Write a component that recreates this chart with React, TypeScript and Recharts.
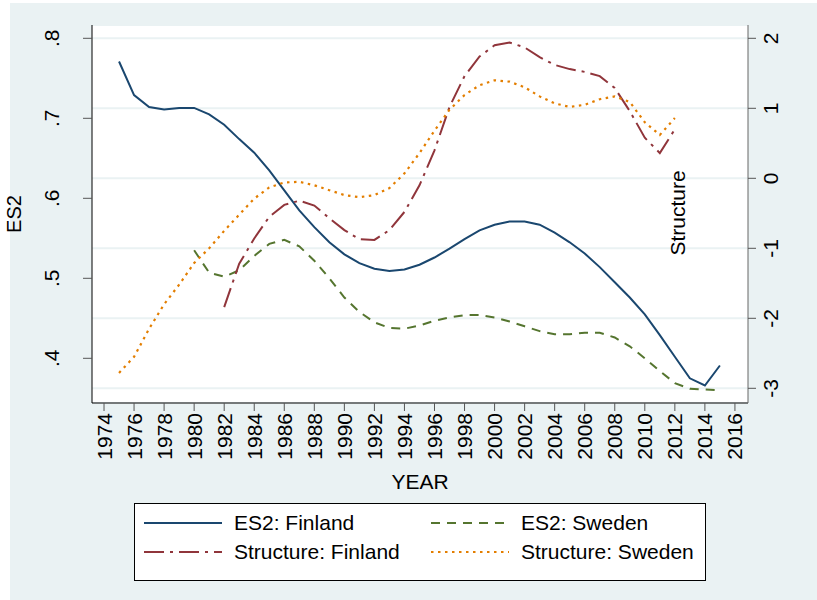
import { LineChart, Line, XAxis, YAxis, CartesianGrid } from 'recharts';

// years on the x axis
const years = [
    1975, 1976, 1977, 1978, 1979, 1980, 1981, 1982, 1983, 1984, 1985, 1986, 1987, 1988,
    1989, 1990, 1991, 1992, 1993, 1994, 1995, 1996, 1997, 1998, 1999, 2000, 2001, 2002,
    2003, 2004, 2005, 2006, 2007, 2008, 2009, 2010, 2011, 2012, 2013, 2014, 2015,
];

// ES2: Finland, 1975-2015
const es2Finland = [
    0.771, 0.729, 0.714, 0.711, 0.713, 0.713, 0.705, 0.692, 0.674, 0.657, 0.635, 0.61, 0.585, 0.564,
    0.545, 0.53, 0.519, 0.512, 0.509, 0.511, 0.517, 0.526, 0.537, 0.549, 0.56, 0.567, 0.571, 0.571,
    0.567, 0.557, 0.545, 0.531, 0.514, 0.495, 0.476, 0.455, 0.429, 0.402, 0.375, 0.366, 0.391,
];

// ES2: Sweden, 1975-2015 (starts 1980)
const es2Sweden = [
    null, null, null, null, null, 0.535, 0.507, 0.502, 0.51, 0.528, 0.543, 0.548, 0.54, 0.522,
    0.5, 0.476, 0.458, 0.445, 0.438, 0.437, 0.441, 0.447, 0.451, 0.454, 0.454, 0.451, 0.446, 0.44,
    0.434, 0.43, 0.43, 0.432, 0.432, 0.426, 0.415, 0.4, 0.384, 0.369, 0.362, 0.361, 0.36,
];

// Structure: Finland, 1975-2015 (1982-2012)
const structureFinland = [
    null, null, null, null, null, null, null, -1.84, -1.22, -0.86, -0.55, -0.38, -0.32, -0.39,
    -0.57, -0.74, -0.87, -0.88, -0.74, -0.48, -0.1, 0.4, 1.02, 1.46, 1.74, 1.9, 1.94, 1.87,
    1.73, 1.62, 1.56, 1.52, 1.46, 1.29, 0.96, 0.58, 0.36, 0.7, null, null, null,
];

// Structure: Sweden, 1975-2015 (1975-2012)
const structureSweden = [
    -2.78, -2.55, -2.15, -1.8, -1.52, -1.21, -1.0, -0.75, -0.52, -0.29, -0.13, -0.06, -0.05, -0.1,
    -0.17, -0.24, -0.27, -0.24, -0.14, 0.07, 0.36, 0.68, 0.98, 1.19, 1.33, 1.4, 1.38, 1.3,
    1.17, 1.07, 1.02, 1.05, 1.13, 1.17, 1.09, 0.8, 0.62, 0.86, null, null, null,
];

const xTicks = [
    1974, 1976, 1978, 1980, 1982, 1984, 1986, 1988, 1990, 1992, 1994, 1996, 1998, 2000, 2002,
    2004, 2006, 2008, 2010, 2012, 2014, 2016,
];
const leftTicks = [0.4, 0.5, 0.6, 0.7, 0.8];
const leftTickLabels = ['.4', '.5', '.6', '.7', '.8'];
const rightTicks = [-3, -2, -1, 0, 1, 2];

const NAVY = '#1a476f';
const MAROON = '#90353b';
const GREEN = '#55752f';
const ORANGE = '#e37e00';
const BG = '#eaf2f3';
const FONT = 'Liberation Sans, Arial, sans-serif';
const FS = 21;

const data = years.map((year, i) => ({
    year,
    es2Fi: es2Finland[i],
    es2Se: es2Sweden[i],
    strFi: structureFinland[i],
    strSe: structureSweden[i],
}));

const XTick = ({ x, y, payload }: any) => (
    <text
        x={x}
        y={y}
        transform={`rotate(-90 ${x} ${y})`}
        textAnchor="end"
        dominantBaseline="central"
        fontSize={FS}
        fontFamily={FONT}
        fill="#000"
    >
        {payload.value}
    </text>
);

const LeftTick = ({ y, payload }: any) => {
    const idx = leftTicks.indexOf(payload.value);
    const label = idx >= 0 ? leftTickLabels[idx] : payload.value;
    return (
        <text
            x={52}
            y={y}
            transform={`rotate(-90 52 ${y})`}
            textAnchor="middle"
            dominantBaseline="central"
            fontSize={FS}
            fontFamily={FONT}
            fill="#000"
        >
            {label}
        </text>
    );
};

const RightTick = ({ y, payload }: any) => (
    <text
        x={771}
        y={y}
        transform={`rotate(-90 771 ${y})`}
        textAnchor="middle"
        dominantBaseline="central"
        fontSize={FS}
        fontFamily={FONT}
        fill="#000"
    >
        {payload.value}
    </text>
);

const legendItems = [
    { name: 'ES2: Finland', color: NAVY, dash: undefined, col: 0, row: 0 },
    { name: 'ES2: Sweden', color: GREEN, dash: '9 7', col: 1, row: 0 },
    { name: 'Structure: Finland', color: MAROON, dash: '20 6 3 6', col: 0, row: 1 },
    { name: 'Structure: Sweden', color: ORANGE, dash: '2.5 4.5', col: 1, row: 1 },
];

function StataLegend() {
    return (
        <div
            style={{
                position: 'absolute',
                left: 134,
                top: 503,
                width: 570,
                height: 76,
                border: '1px solid #000',
                background: '#fff',
                fontFamily: FONT,
                fontSize: FS,
            }}
        >
            {legendItems.map((it) => (
                <div
                    key={it.name}
                    style={{
                        position: 'absolute',
                        left: it.col === 0 ? 9 : 296,
                        top: it.row === 0 ? 6 : 35,
                        height: 26,
                        display: 'flex',
                        alignItems: 'center',
                        whiteSpace: 'nowrap',
                    }}
                >
                    <svg width={78} height={6} style={{ marginRight: 12 }}>
                        <line x1={0} y1={3} x2={78} y2={3} stroke={it.color} strokeWidth={2} strokeDasharray={it.dash} />
                    </svg>
                    <span>{it.name}</span>
                </div>
            ))}
        </div>
    );
}

export default function App() {
    return (
        <div style={{ position: 'absolute', left: 0, top: 0, width: 817, height: 600, background: '#fff' }}>
            <div style={{ position: 'absolute', left: 10, top: 3, right: 0, bottom: 0, background: BG }} />
            <div style={{ position: 'absolute', left: 0, top: 0 }}>
                <LineChart width={817} height={600} data={data} margin={{ top: 25, right: 0, bottom: 0, left: 0 }}>
                    <CartesianGrid yAxisId="right" vertical={false} stroke={BG} strokeWidth={2} fill="#fff" />
                    <XAxis
                        dataKey="year"
                        type="number"
                        domain={[1973.2, 2016.87]}
                        ticks={xTicks}
                        interval={0}
                        height={197}
                        tickSize={8}
                        tickMargin={2}
                        tick={<XTick />}
                        stroke="#000"
                        tickLine={{ stroke: '#555' }}
                        label={{
                            content: () => (
                                <text x={420} y={481} textAnchor="middle" dominantBaseline="central" fontSize={FS} fontFamily={FONT} fill="#000">
                                    YEAR
                                </text>
                            ),
                        }}
                    />
                    <YAxis
                        yAxisId="left"
                        orientation="left"
                        width={92}
                        domain={[0.34413, 0.81663]}
                        ticks={leftTicks}
                        interval={0}
                        tickSize={9}
                        tick={<LeftTick />}
                        stroke="#000"
                        tickLine={{ stroke: '#555' }}
                        allowDataOverflow
                        label={{
                            content: () => (
                                <text x={14} y={214} transform="rotate(-90 14 214)" textAnchor="middle" dominantBaseline="central" fontSize={20} fontFamily={FONT} fill="#000">
                                    ES2
                                </text>
                            ),
                        }}
                    />
                    <YAxis
                        yAxisId="right"
                        orientation="right"
                        width={69}
                        domain={[-3.21, 2.19]}
                        ticks={rightTicks}
                        interval={0}
                        tickSize={8}
                        tick={<RightTick />}
                        stroke="#666"
                        tickLine={{ stroke: '#555' }}
                        allowDataOverflow
                        label={{
                            content: () => (
                                <text x={677} y={213} transform="rotate(-90 677 213)" textAnchor="middle" dominantBaseline="central" fontSize={FS} fontFamily={FONT} fill="#000">
                                    Structure
                                </text>
                            ),
                        }}
                    />
                    <Line yAxisId="left" dataKey="es2Fi" stroke={NAVY} strokeWidth={2} dot={false} type="linear" isAnimationActive={false} />
                    <Line yAxisId="left" dataKey="es2Se" stroke={GREEN} strokeWidth={2} strokeDasharray="9 7" dot={false} type="linear" isAnimationActive={false} />
                    <Line yAxisId="right" dataKey="strFi" stroke={MAROON} strokeWidth={2} strokeDasharray="20 6 3 6" dot={false} type="linear" isAnimationActive={false} />
                    <Line yAxisId="right" dataKey="strSe" stroke={ORANGE} strokeWidth={2.2} strokeDasharray="2.5 4.5" dot={false} type="linear" isAnimationActive={false} />
                </LineChart>
            </div>
            <StataLegend />
        </div>
    );
}
